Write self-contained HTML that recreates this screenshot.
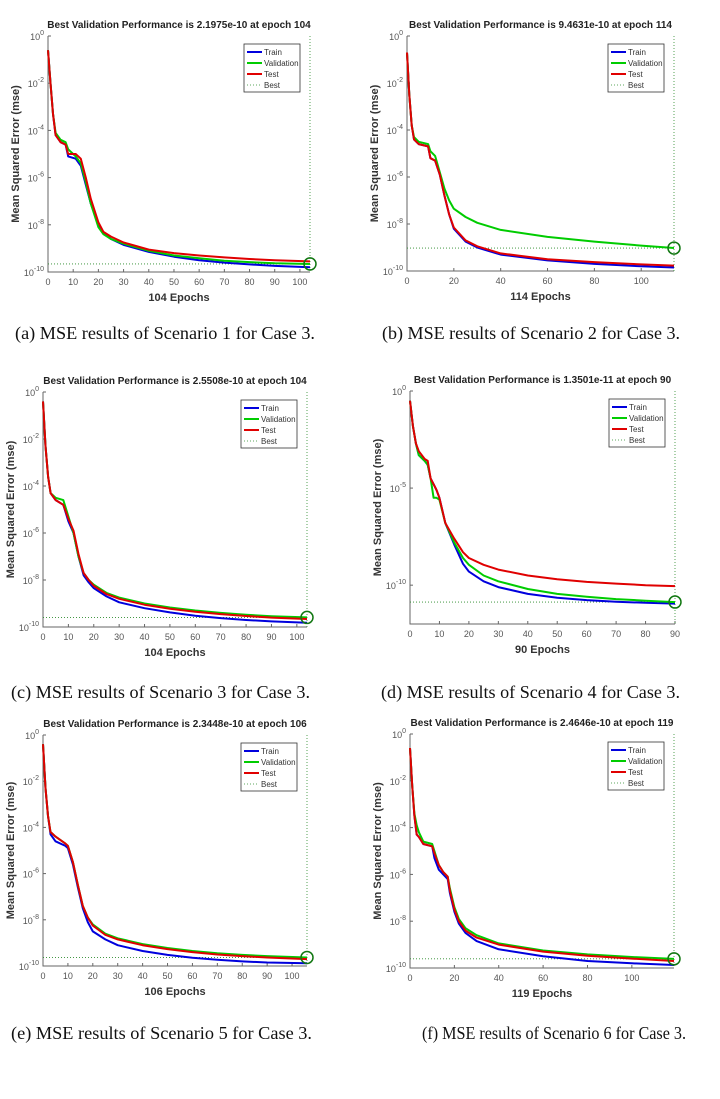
<!DOCTYPE html>
<html><head><meta charset="utf-8">
<style>
body{margin:0;background:#fff;width:720px;height:1094px;overflow:hidden}
svg text{font-family:"Liberation Sans",Arial,sans-serif}
.cap{font-family:"Liberation Serif","Times New Roman",serif;font-size:18px;fill:#111}
</style></head><body>
<svg id="fig" width="720" height="1094" xmlns="http://www.w3.org/2000/svg"></svg>
<script>
// Panel data (log10 MSE at sample epochs)
const aEpochs=[0,1,2,3,5,7,8,11,13,15,17,20,22,25,30,40,50,60,70,80,90,104];
const aTrain=[-0.6,-2,-3.3,-4.2,-4.5,-4.6,-5.1,-5.2,-5.5,-6.3,-7.1,-8.0,-8.35,-8.6,-8.85,-9.15,-9.35,-9.5,-9.6,-9.68,-9.74,-9.8];
const aVal=[-0.6,-2,-3.3,-4.1,-4.4,-4.5,-4.8,-5.1,-5.4,-6.2,-7.1,-8.1,-8.4,-8.6,-8.8,-9.1,-9.3,-9.42,-9.52,-9.58,-9.63,-9.66];
const aTest=[-0.6,-2,-3.3,-4.2,-4.5,-4.6,-5.0,-5.0,-5.2,-6.0,-6.9,-7.9,-8.3,-8.5,-8.75,-9.05,-9.2,-9.3,-9.38,-9.45,-9.5,-9.55];

const bEpochs=[0,1,2,3,5,9,10,12,14,16,18,20,25,30,40,60,80,100,114];
const bTrain=[-0.7,-2.5,-3.8,-4.4,-4.6,-4.7,-5.2,-5.3,-5.9,-6.8,-7.6,-8.2,-8.75,-9.0,-9.3,-9.55,-9.7,-9.8,-9.85];
const bVal=[-0.7,-2.5,-3.8,-4.3,-4.5,-4.6,-4.9,-5.1,-5.8,-6.5,-7.0,-7.35,-7.7,-7.95,-8.25,-8.55,-8.75,-8.92,-9.02];
const bTest=[-0.7,-2.5,-3.8,-4.4,-4.6,-4.7,-5.2,-5.3,-5.9,-6.8,-7.6,-8.15,-8.7,-8.95,-9.25,-9.5,-9.62,-9.72,-9.77];

const cEpochs=[0,1,2,3,5,8,10,12,14,16,18,20,25,30,40,50,60,70,80,90,104];
const cTrain=[-0.4,-2.3,-3.6,-4.3,-4.6,-4.8,-5.5,-6.0,-7.0,-7.8,-8.1,-8.35,-8.7,-8.95,-9.2,-9.38,-9.52,-9.62,-9.7,-9.76,-9.82];
const cVal=[-0.4,-2.3,-3.6,-4.3,-4.5,-4.6,-5.3,-6.0,-7.0,-7.7,-8.0,-8.2,-8.55,-8.75,-9.0,-9.17,-9.3,-9.4,-9.48,-9.54,-9.59];
const cTest=[-0.4,-2.3,-3.6,-4.3,-4.6,-4.8,-5.4,-5.9,-6.9,-7.7,-8.0,-8.25,-8.6,-8.8,-9.05,-9.22,-9.35,-9.45,-9.53,-9.6,-9.66];

const dEpochs=[0,1,2,3,5,6,7,8,9,10,12,15,18,20,25,30,40,50,60,70,80,90];
const dTrain=[-0.5,-1.8,-2.7,-3.3,-3.6,-3.8,-4.5,-4.8,-5.1,-5.5,-6.8,-7.9,-8.9,-9.3,-9.8,-10.1,-10.45,-10.65,-10.77,-10.85,-10.91,-10.95];
const dVal=[-0.5,-1.8,-2.7,-3.3,-3.6,-3.8,-4.5,-5.5,-5.5,-5.6,-6.8,-7.8,-8.6,-8.95,-9.5,-9.8,-10.2,-10.45,-10.6,-10.72,-10.8,-10.87];
const dTest=[-0.5,-1.8,-2.7,-3.1,-3.5,-3.6,-4.5,-4.8,-5.1,-5.5,-6.8,-7.6,-8.3,-8.6,-8.95,-9.2,-9.5,-9.7,-9.83,-9.92,-10.0,-10.05];

const eEpochs=[0,1,2,3,5,9,10,12,14,16,18,20,25,30,40,50,60,70,80,90,106];
const eTrain=[-0.4,-2.3,-3.5,-4.3,-4.6,-4.8,-4.9,-5.6,-6.6,-7.5,-8.1,-8.5,-8.85,-9.1,-9.35,-9.52,-9.64,-9.73,-9.8,-9.85,-9.88];
const eVal=[-0.4,-2.3,-3.5,-4.2,-4.4,-4.7,-4.8,-5.5,-6.5,-7.4,-7.9,-8.2,-8.6,-8.8,-9.05,-9.22,-9.35,-9.45,-9.52,-9.57,-9.63];
const eTest=[-0.4,-2.3,-3.5,-4.2,-4.4,-4.7,-4.8,-5.5,-6.5,-7.4,-7.9,-8.25,-8.65,-8.85,-9.1,-9.27,-9.4,-9.5,-9.57,-9.63,-9.7];

const fEpochs=[0,1,2,3,4,6,10,11,13,15,17,18,20,22,25,30,40,60,80,100,119];
const fTrain=[-0.6,-2.2,-3.5,-4.3,-4.4,-4.7,-4.8,-5.3,-5.8,-6.0,-6.2,-6.8,-7.6,-8.1,-8.5,-8.85,-9.2,-9.5,-9.7,-9.8,-9.87];
const fVal=[-0.6,-2.2,-3.4,-3.9,-4.2,-4.6,-4.7,-5.0,-5.6,-5.9,-6.1,-6.6,-7.4,-7.9,-8.3,-8.6,-8.95,-9.25,-9.42,-9.53,-9.61];
const fTest=[-0.6,-2.2,-3.5,-4.3,-4.4,-4.7,-4.8,-5.1,-5.6,-5.9,-6.1,-6.7,-7.5,-8.0,-8.4,-8.7,-9.0,-9.3,-9.48,-9.6,-9.7];

const bestVals=[-9.658,-9.024,-9.593,-10.87,-9.630,-9.608];
const titles=["Best Validation Performance is 2.1975e-10 at epoch 104","Best Validation Performance is 9.4631e-10 at epoch 114","Best Validation Performance is 2.5508e-10 at epoch 104","Best Validation Performance is 1.3501e-11 at epoch 90","Best Validation Performance is 2.3448e-10 at epoch 106","Best Validation Performance is 2.4646e-10 at epoch 119"];
const captions=["(a) MSE results of Scenario 1 for Case 3.","(b) MSE results of Scenario 2 for Case 3.","(c) MSE results of Scenario 3 for Case 3.","(d) MSE results of Scenario 4 for Case 3.","(e) MSE results of Scenario 5 for Case 3.","(f) MSE results of Scenario 6 for Case 3."];
const xTickSteps=[10,20,10,10,10,20];
const yTickLists=[[0,-2,-4,-6,-8,-10],[0,-2,-4,-6,-8,-10],[0,-2,-4,-6,-8,-10],[0,-5,-10],[0,-2,-4,-6,-8,-10],[0,-2,-4,-6,-8,-10]];
const yMins=[-10,-10,-10,-12,-10,-10];

const layouts=[
 {l:48,t:36,r:310,b:272,cx:15,cy:339,cw:300},
 {l:407,t:36,r:674,b:271,cx:382,cy:339,cw:298},
 {l:43,t:392,r:307,b:627,cx:11,cy:698,cw:299},
 {l:410,t:391,r:675,b:624,cx:381,cy:698,cw:299},
 {l:43,t:735,r:307,b:966,cx:11,cy:1039,cw:301},
 {l:410,t:734,r:674,b:968,cx:422,cy:1039,cw:264}];
const panels=[[aEpochs,aTrain,aVal,aTest],[bEpochs,bTrain,bVal,bTest],[cEpochs,cTrain,cVal,cTest],[dEpochs,dTrain,dVal,dTest],[eEpochs,eTrain,eVal,eTest],[fEpochs,fTrain,fVal,fTest]];
const letters=['a','b','c','d','e','f'];
const NS="http://www.w3.org/2000/svg";
const fig=document.getElementById('fig');
function mk(tag,attrs,parent,txt){const e=document.createElementNS(NS,tag);for(const k in attrs)e.setAttribute(k,attrs[k]);if(txt!==undefined)e.textContent=txt;parent.appendChild(e);return e;}

panels.forEach((p,i)=>{
 const L=layouts[i],ep=p[0],xmax=ep[ep.length-1],ymin=yMins[i];
 const X=v=>L.l+(v/xmax)*(L.r-L.l);
 const Y=v=>L.t+(0-v)/(0-ymin)*(L.b-L.t);
 const g=mk('g',{},fig);
 
 
 const ax=mk('path',{d:`M${L.l},${L.t}V${L.b}H${L.r}`,stroke:'#666',fill:'none','stroke-width':1},g);
 
 
 for(let v=0;v<=xmax;v+=xTickSteps[i]){
  const x=X(v);
  mk('line',{x1:x,x2:x,y1:L.b,y2:L.b-3,stroke:'#666'},g);
  const t=mk('text',{x:x,y:L.b+13,'font-size':9,fill:'#555','text-anchor':'middle'},g,String(v));
  
  
 }
 yTickLists[i].forEach(v=>{
  const y=Y(v);
  mk('line',{x1:L.l,x2:L.l+3,y1:y,y2:y,stroke:'#666'},g);
  const t=mk('text',{x:L.l-4,y:y+4,'font-size':9,fill:'#555','text-anchor':'end'},g);
  
  
  mk('tspan',{},t,'10');
  mk('tspan',{dy:-5,'font-size':7},t,String(v));
 });
 const by=Y(bestVals[i]);
 const bl=mk('line',{x1:L.l,x2:L.r,y1:by,y2:by,stroke:'#2a8a2a','stroke-width':0.8,'stroke-dasharray':'1,2'},g);
 
 
 const bv=mk('line',{x1:L.r,x2:L.r,y1:L.t,y2:L.b,stroke:'#2a8a2a','stroke-width':0.8,'stroke-dasharray':'1,2'},g);
 
 
 const cols=['#0000dd','#00cc00','#e00000'];
 const names=['train-line','validation-line','test-line'];
 [1,2,3].forEach((s,k)=>{
  const d=ep.map((e,j)=>(j?'L':'M')+X(e).toFixed(1)+','+Y(p[s][j]).toFixed(1)).join('');
  const pl=mk('path',{d:d,stroke:cols[k],fill:'none','stroke-width':2,'stroke-linejoin':'round'},g);
  
  
 });
 const c=mk('circle',{cx:L.r,cy:by,r:6,stroke:'#117711','stroke-width':1.5,fill:'none'},g);
 
 
 const lx=L.r-66,ly=L.t+8;
 const lg=mk('g',{},g);
 
 
 mk('rect',{x:lx,y:ly,width:56,height:48,fill:'#fff',stroke:'#333','stroke-width':0.8},lg);
 const labs=['Train','Validation','Test','Best'];
 labs.forEach((lab,k)=>{
  const yy=ly+8+k*11;
  if(k<3)mk('line',{x1:lx+3,x2:lx+18,y1:yy,y2:yy,stroke:cols[k],'stroke-width':2},lg);
  else mk('line',{x1:lx+3,x2:lx+18,y1:yy,y2:yy,stroke:'#2a8a2a','stroke-width':0.8,'stroke-dasharray':'1,2'},lg);
  const t=mk('text',{x:lx+20,y:yy+3,'font-size':8,fill:'#333'},lg,lab);
  
  
 });
 const tt=mk('text',{x:(L.l+L.r)/2,y:L.t-8,'font-size':10,'font-weight':'bold',fill:'#222','text-anchor':'middle'},g,titles[i]);
 
 
 const xl=mk('text',{x:(L.l+L.r)/2,y:L.b+29,'font-size':11,'font-weight':'bold',fill:'#333','text-anchor':'middle'},g,(xmax)+' Epochs');
 
 
 const yx=L.l-29,yc=(L.t+L.b)/2;
 const yl=mk('text',{x:yx,y:yc,'font-size':11,'font-weight':'bold',fill:'#333','text-anchor':'middle',transform:`rotate(-90 ${yx} ${yc})`},g,'Mean Squared Error  (mse)');
 
 
 const cp=mk('text',{x:L.cx,y:L.cy,class:'cap',textLength:L.cw,lengthAdjust:'spacingAndGlyphs'},fig,captions[i]);
 
 
});
</script>
</body></html>
